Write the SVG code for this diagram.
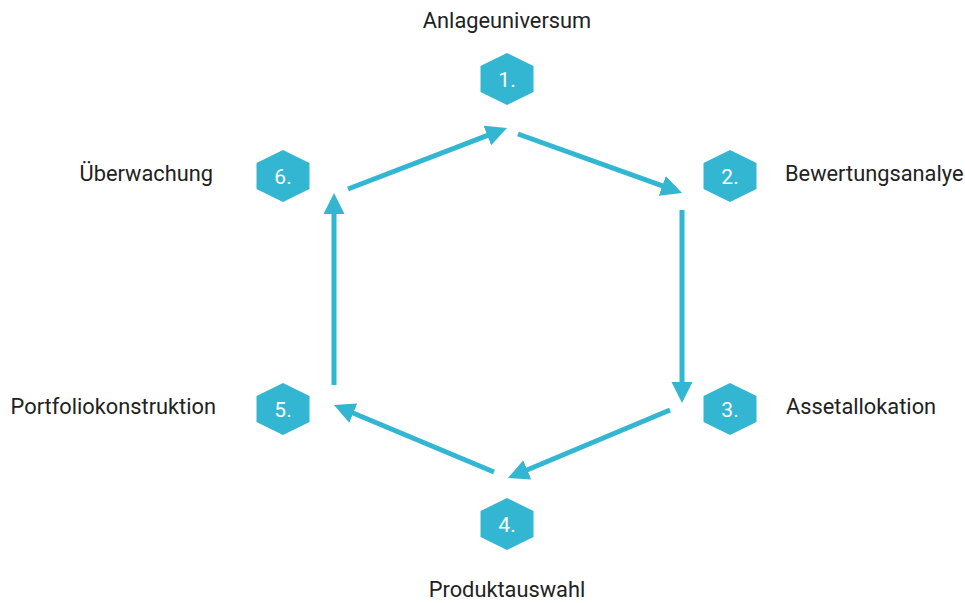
<svg xmlns="http://www.w3.org/2000/svg" width="965" height="603" viewBox="0 0 965 603">
  <style>
    .hex { fill: #33b6d2; }
    .num { font-family: Roboto, "Liberation Sans", sans-serif; font-size: 21px; fill: #ffffff; text-anchor: middle; }
    .lbl { font-family: Roboto, "Liberation Sans", sans-serif; font-size: 21.8px; fill: #222222; }
    .conn { stroke: #33b6d2; stroke-width: 5; fill: none; marker-end: url(#ah); }
  </style>
  <defs>
    <marker id="ah" markerUnits="userSpaceOnUse" markerWidth="21" markerHeight="22" viewBox="0 -11 21 22" refX="1" refY="0" orient="auto">
      <path d="M0,-10.5 L21,0 L0,10.5 Z" fill="#33b6d2"/>
    </marker>
    <polygon id="hexshape" points="0,-26 26.5,-13 26.5,13 0,26 -26.5,13 -26.5,-13"/>
  </defs>
  <rect width="965" height="603" fill="#ffffff"/>
  <g id="connectors">
    <line class="conn" x1="348" y1="189" x2="488.3" y2="135.2"/>
    <line class="conn" x1="518" y1="134" x2="663.2" y2="186.2"/>
    <line class="conn" x1="682" y1="210" x2="682" y2="383"/>
    <line class="conn" x1="670" y1="410" x2="526.4" y2="470.3"/>
    <line class="conn" x1="494" y1="472" x2="352.4" y2="412.7"/>
    <line class="conn" x1="334" y1="385" x2="334" y2="213"/>
  </g>
  <g id="node1">
    <use href="#hexshape" class="hex" x="507" y="79"/>
    <text class="num" x="507" y="86.5">1.</text>
    <text class="lbl" x="507" y="28" text-anchor="middle">Anlageuniversum</text>
  </g>
  <g id="node2">
    <use href="#hexshape" class="hex" x="730" y="176"/>
    <text class="num" x="730" y="183.5">2.</text>
    <text class="lbl" x="785" y="181">Bewertungsanalye</text>
  </g>
  <g id="node3">
    <use href="#hexshape" class="hex" x="730" y="409"/>
    <text class="num" x="730" y="416.5">3.</text>
    <text class="lbl" x="786" y="414">Assetallokation</text>
  </g>
  <g id="node4">
    <use href="#hexshape" class="hex" x="507" y="524"/>
    <text class="num" x="507" y="531.5">4.</text>
    <text class="lbl" x="507" y="597" text-anchor="middle">Produktauswahl</text>
  </g>
  <g id="node5">
    <use href="#hexshape" class="hex" x="283" y="409"/>
    <text class="num" x="283" y="416.5">5.</text>
    <text class="lbl" x="216" y="414" text-anchor="end">Portfoliokonstruktion</text>
  </g>
  <g id="node6">
    <use href="#hexshape" class="hex" x="283" y="176"/>
    <text class="num" x="283" y="183.5">6.</text>
    <text class="lbl" x="213" y="181" text-anchor="end">Überwachung</text>
  </g>
</svg>
